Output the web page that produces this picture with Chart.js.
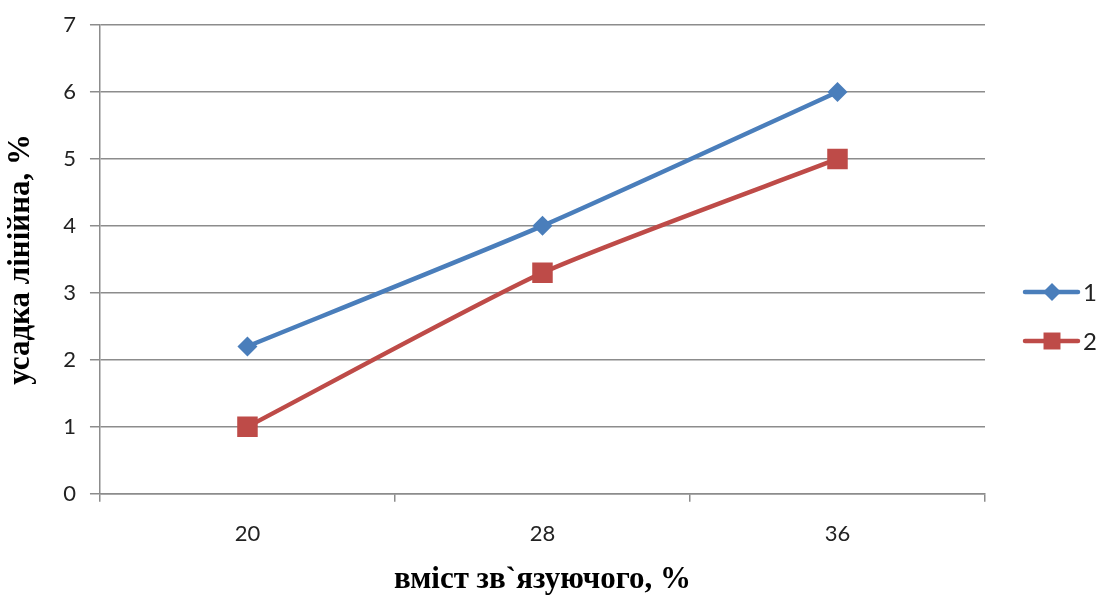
<!DOCTYPE html>
<html>
<head>
<meta charset="utf-8">
<script src="https://cdn.jsdelivr.net/npm/chart.js@4"></script>
<style>
  html, body { margin: 0; padding: 0; background: #fff; }
  #wrap { width: 1099px; height: 601px; }
</style>
</head>
<body>
<div id="wrap"><canvas id="shrinkChart" width="1099" height="601"></canvas></div>
<script>
const categories = ['20', '28', '36'];
const series1 = [2.2, 4, 6];
const series2 = [1, 3.3, 5];
const seriesNames = ['1', '2'];
const yTicks = [0, 1, 2, 3, 4, 5, 6, 7];

const BLUE = '#4A7EBB';
const RED = '#BE4B48';
const AXIS = '#8C8C8C';

// legend on the right, line + marker like the office chart
const sideLegend = {
    id: 'sideLegend',
    afterDraw(chart) {
        const ctx = chart.ctx;
        const ys = [292, 341];
        chart.data.datasets.forEach((ds, i) => {
            const y = ys[i];
            ctx.save();
            ctx.strokeStyle = ds.borderColor;
            ctx.lineWidth = 4.5;
            ctx.lineCap = 'round';
            ctx.beginPath();
            ctx.moveTo(1025, y);
            ctx.lineTo(1078, y);
            ctx.stroke();
            ctx.fillStyle = ds.pointBackgroundColor;
            Chart.helpers.drawPoint(ctx, { pointStyle: ds.pointStyle, radius: ds.pointStyle === 'rect' ? 12 : 9, rotation: 0, borderWidth: 0 }, 1052, y);
            ctx.fillStyle = '#222';
            ctx.font = '24px Lato, "Open Sans", sans-serif';
            ctx.textBaseline = 'middle';
            ctx.fillText(ds.label, 1083, y + 1);
            ctx.restore();
        });
    }
};

new Chart(document.getElementById('shrinkChart'), {
    type: 'line',
    data: {
        labels: categories,
        datasets: [
            { label: seriesNames[0], data: series1, borderColor: BLUE, backgroundColor: BLUE, pointBackgroundColor: BLUE, pointBorderColor: BLUE, borderWidth: 4.5, pointStyle: 'rectRot', pointRadius: 10, pointBorderWidth: 0, tension: 0.2 },
            { label: seriesNames[1], data: series2, borderColor: RED, backgroundColor: RED, pointBackgroundColor: RED, pointBorderColor: RED, borderWidth: 4.5, pointStyle: 'rect', pointRadius: 14.5, pointBorderWidth: 0, tension: 0.2 }
        ]
    },
    options: {
        responsive: false,
        animation: false,
        events: [],
        layout: { padding: { top: 14, right: 114, bottom: 7, left: 2 } },
        plugins: { legend: { display: false }, tooltip: { enabled: false } },
        scales: {
            x: {
                type: 'category',
                offset: true,
                grid: { offset: true, drawOnChartArea: false, drawTicks: true, tickLength: 8, color: AXIS, lineWidth: 1.5 },
                border: { color: AXIS, width: 1.5 },
                ticks: { color: '#222', font: { family: 'Lato, "Open Sans", sans-serif', size: 22 }, padding: 19 },
                title: { display: true, text: 'вміст зв`язуючого, %', color: '#000', font: { family: '"Liberation Serif", "DejaVu Serif", serif', size: 31, weight: 'bold', lineHeight: 0.9 }, padding: { top: 0, bottom: 0 } }
            },
            y: {
                min: 0,
                max: 7,
                afterBuildTicks(scale) { scale.ticks = yTicks.map(v => ({ value: v })); },
                grid: { color: AXIS, lineWidth: 1.5, tickLength: 10 },
                border: { color: AXIS, width: 1.5 },
                ticks: { color: '#222', font: { family: 'Lato, "Open Sans", sans-serif', size: 22, lineHeight: 1.0 }, padding: 14 },
                title: { display: true, text: 'усадка лінійна, %', color: '#000', font: { family: '"Liberation Serif", "DejaVu Serif", serif', size: 31, weight: 'bold' }, padding: { top: 0, bottom: 10 } }
            }
        }
    },
    plugins: [sideLegend]
});
</script>
</body>
</html>
